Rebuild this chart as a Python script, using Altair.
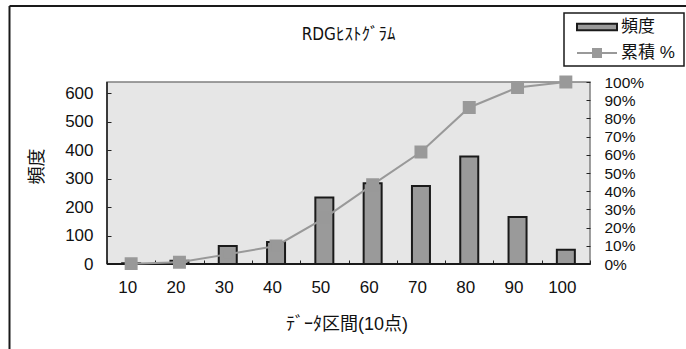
import altair as alt
import pandas as pd

# Histogram bins, counts and the cumulative share per bin
categories = ["10", "20", "30", "40", "50", "60", "70", "80", "90", "100"]
frequency = [3, 11, 63, 77, 234, 284, 274, 378, 165, 50]
cumulative_pct = [0.2, 1.0, 5.3, 9.9, 25.2, 43.6, 61.5, 86.0, 97.0, 100.0]
left_ticks = [0, 100, 200, 300, 400, 500, 600]
right_ticks = [0, 10, 20, 30, 40, 50, 60, 70, 80, 90, 100]

W, H = 483, 182
NUM_FONT = "Liberation Sans, Arial, Noto Sans CJK JP"
JP_FONT = "Noto Sans CJK JP"

df = pd.DataFrame({
    "区間": categories,
    "頻度": frequency,
    "累積": cumulative_pct,
    "bar_key": ["頻度"] * len(categories),
    "line_key": ["累積 %"] * len(categories),
})

x_enc = alt.X(
    "区間:N",
    sort=categories,
    scale=alt.Scale(paddingInner=0, paddingOuter=0),
    axis=alt.Axis(
        title="ﾃﾞｰﾀ区間(10点)",
        labelAngle=0,
        tickBand="extent",
        offset=-4,
        tickSize=4,
        tickColor="#222",
        domain=False,
        labelPadding=15,
        labelFont=NUM_FONT,
        labelFontSize=17,
        labelColor="#111",
        labelOffset=-4,
        titleFont=NUM_FONT,
        titleFontSize=18,
        titleFontWeight="normal",
        titleColor="#111",
        titleX=W / 2 - 2,
        titleY=64,
        titleBaseline="middle",
    ),
)

bars = alt.Chart(df).mark_bar(size=18, stroke="#1a1a1a", strokeWidth=2).encode(
    x=x_enc,
    y=alt.Y(
        "頻度:Q",
        scale=alt.Scale(domain=[0, 640], nice=False, zero=True),
        axis=alt.Axis(
            values=left_ticks,
            title="頻度",
            orient="left",
            offset=-4,
            tickSize=4,
            tickColor="#222",
            domain=False,
            grid=False,
            labelPadding=14,
            labelFont=NUM_FONT,
            labelFontSize=17,
            labelColor="#111",
            titleFont=JP_FONT,
            titleFontSize=18,
            titleFontWeight="normal",
            titleColor="#111",
            titleAngle=-90,
            titleX=-74,
            titleY=84,
            titleBaseline="middle",
            titleAlign="center",
        ),
    ),
    fill=alt.Fill(
        "bar_key:N",
        scale=alt.Scale(domain=["頻度"], range=["#9a9a9a"]),
        legend=alt.Legend(
            title=None,
            orient="none",
            legendX=469,
            legendY=-76,
            symbolType="M-1,-0.16H1V0.16H-1Z",
            symbolSize=1600,
            symbolStrokeColor="#1a1a1a",
            symbolStrokeWidth=2,
            labelFont=NUM_FONT,
            labelFontSize=17,
            labelColor="#111",
            labelOffset=3,
            padding=0,
        ),
    ),
)

line = alt.Chart(df).mark_line(
    strokeWidth=2,
    point=alt.OverlayMarkDef(shape="square", size=120, filled=True, color="#999999"),
).encode(
    x=x_enc,
    y=alt.Y(
        "累積:Q",
        scale=alt.Scale(domain=[0, 100], nice=False),
        axis=alt.Axis(
            values=right_ticks,
            labelExpr="datum.value + '%'",
            title=None,
            orient="right",
            offset=-4,
            tickSize=4,
            tickColor="#222",
            domain=False,
            grid=False,
            labelPadding=14,
            labelFont=NUM_FONT,
            labelFontSize=15.5,
            labelColor="#111",
        ),
    ),
    stroke=alt.Stroke(
        "line_key:N",
        scale=alt.Scale(domain=["累積 %"], range=["#999999"]),
        legend=alt.Legend(
            title=None,
            orient="none",
            legendX=469,
            legendY=-50,
            symbolType="M-1,0H-0.2M0.2,0H1M-0.2,-0.2H0.2V0.2H-0.2Z",
            symbolSize=1600,
            symbolFillColor="#999999",
            symbolStrokeColor="#999999",
            symbolStrokeWidth=2,
            labelFont=NUM_FONT,
            labelFontSize=17,
            labelColor="#111",
            labelOffset=3,
            padding=0,
        ),
    ),
)

one = pd.DataFrame({"k": [0]})

# Black left and bottom axis lines over the grey plot border
axis_lines = alt.layer(
    alt.Chart(one).mark_rule(color="#1a1a1a", strokeWidth=1.5).encode(
        x=alt.value(0), y=alt.value(0), y2=alt.value(H)
    ),
    alt.Chart(one).mark_rule(color="#1a1a1a", strokeWidth=2).encode(
        x=alt.value(0), x2=alt.value(W), y=alt.value(H)
    ),
)

# Outer chart-area border (top and left edges) and the legend box
frame = alt.layer(
    alt.Chart(one).mark_rule(color="#1a1a1a", strokeWidth=2).encode(
        x=alt.value(-97.5), x2=alt.value(600), y=alt.value(-76)
    ),
    alt.Chart(one).mark_rule(color="#1a1a1a", strokeWidth=2).encode(
        x=alt.value(-97.5), y=alt.value(-76), y2=alt.value(300)
    ),
    alt.Chart(one).mark_rect(fill="white", stroke="#1a1a1a", strokeWidth=1.5).encode(
        x=alt.value(457), x2=alt.value(577), y=alt.value(-69), y2=alt.value(-16)
    ),
)

chart = (
    alt.layer(frame, alt.layer(bars, axis_lines), line)
    .resolve_scale(y="independent", fill="independent", stroke="independent")
    .properties(
        width=W,
        height=H,
        title=alt.TitleParams(
            "RDGﾋｽﾄｸﾞﾗﾑ",
            frame="group",
            anchor="middle",
            offset=-39,
            font="Liberation Sans Narrow, DejaVu Sans Condensed, Noto Sans CJK JP",
            fontSize=17,
            fontWeight="normal",
            color="#111",
        ),
        autosize=alt.AutoSizeParams(type="none"),
        padding={"left": 107, "top": 82, "right": 96, "bottom": 85},
        background="white",
    )
    .configure_view(fill="#e6e6e6", stroke="#808080", strokeWidth=1.5)
)

chart.save("out.html", embed_options={"renderer": "svg", "actions": False})
